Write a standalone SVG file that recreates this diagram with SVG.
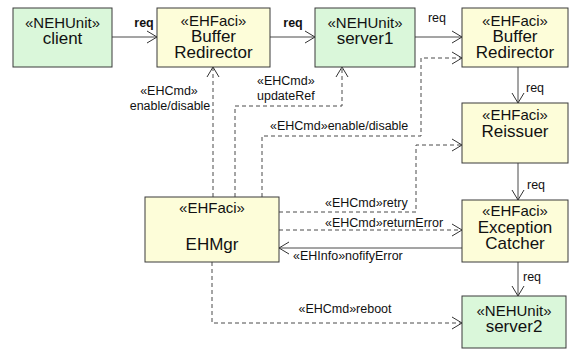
<svg xmlns="http://www.w3.org/2000/svg" width="573" height="352" viewBox="0 0 573 352">
<style>
.box{stroke:#3a3a3a;stroke-width:1}
.unit{fill:#daf7da}
.faci{fill:#fdfdd9}
.st{font-family:"Liberation Sans",Arial,sans-serif;font-size:15px;fill:#111;text-anchor:middle}
.nm{font-family:"Liberation Sans",Arial,sans-serif;font-size:17px;fill:#111;text-anchor:middle}
.lb{font-family:"Liberation Sans",Arial,sans-serif;font-size:12.5px;fill:#111}
.b{font-weight:bold}
.c{fill:none;stroke:#4a4a4a;stroke-width:1}
.d{stroke-dasharray:4,3}
</style>
<defs>
<marker id="a" viewBox="-11 -7 12 14" refX="0" refY="0" markerWidth="12" markerHeight="14" markerUnits="userSpaceOnUse" orient="auto">
<path d="M-10,-6 L0,0 L-10,6" fill="none" stroke="#333" stroke-width="1"/>
</marker>
</defs>
<g id="connectors">
<path class="c" d="M112,37 H157" marker-end="url(#a)"/>
<text class="lb b" x="144" y="27" text-anchor="middle">req</text>
<path class="c" d="M270,37 H315" marker-end="url(#a)"/>
<text class="lb b" x="293" y="27" text-anchor="middle">req</text>
<path class="c" d="M415,37 H462" marker-end="url(#a)"/>
<text class="lb" x="437" y="22" text-anchor="middle">req</text>
<path class="c" d="M518,67 V103" marker-end="url(#a)"/>
<text class="lb" x="526" y="92">req</text>
<path class="c" d="M518,163 V200" marker-end="url(#a)"/>
<text class="lb" x="527" y="189">req</text>
<path class="c" d="M518,262 V296" marker-end="url(#a)"/>
<text class="lb" x="523" y="281">req</text>
<path class="c d" d="M213,197 V67" marker-end="url(#a)"/>
<text class="lb" x="169" y="95" text-anchor="middle">«EHCmd»</text>
<text class="lb" x="170" y="110" text-anchor="middle">enable/disable</text>
<path class="c d" d="M235,197 V106 H342 V67" marker-end="url(#a)"/>
<text class="lb" x="257" y="85">«EHCmd»</text>
<text class="lb" x="257" y="100">updateRef</text>
<path class="c d" d="M262,197 V136 H421 V58 H462" marker-end="url(#a)"/>
<text class="lb" x="270" y="130">«EHCmd»enable/disable</text>
<path class="c d" d="M279,212 H416 V145 H462" marker-end="url(#a)"/>
<text class="lb" x="325" y="207">«EHCmd»retry</text>
<path class="c d" d="M279,230 H462" marker-end="url(#a)"/>
<text class="lb" x="325" y="227">«EHCmd»returnError</text>
<path class="c" d="M462,248 H279" marker-end="url(#a)"/>
<text class="lb" x="293" y="260">«EHInfo»nofifyError</text>
<path class="c d" d="M212,262 V323 H462" marker-end="url(#a)"/>
<text class="lb" x="345" y="313" text-anchor="middle">«EHCmd»reboot</text>
</g>
<g id="client">
<rect class="box unit" x="13" y="8" width="99" height="59"/>
<text class="st" x="62.5" y="28">«NEHUnit»</text>
<text class="nm" x="62.5" y="44">client</text>
</g>
<g id="bufferRedirector1">
<rect class="box faci" x="157" y="8" width="113" height="59"/>
<text class="st" x="213.5" y="26">«EHFaci»</text>
<text class="nm" x="213.5" y="42">Buffer</text>
<text class="nm" x="213.5" y="58">Redirector</text>
</g>
<g id="server1">
<rect class="box unit" x="315" y="8" width="100" height="59"/>
<text class="st" x="365" y="28">«NEHUnit»</text>
<text class="nm" x="365" y="44">server1</text>
</g>
<g id="bufferRedirector2">
<rect class="box faci" x="462" y="8" width="106" height="59"/>
<text class="st" x="515" y="26">«EHFaci»</text>
<text class="nm" x="515" y="42">Buffer</text>
<text class="nm" x="515" y="58">Redirector</text>
</g>
<g id="reissuer">
<rect class="box faci" x="462" y="103" width="106" height="60"/>
<text class="st" x="515" y="120">«EHFaci»</text>
<text class="nm" x="515" y="137">Reissuer</text>
</g>
<g id="exceptionCatcher">
<rect class="box faci" x="462" y="200" width="106" height="62"/>
<text class="st" x="515" y="216">«EHFaci»</text>
<text class="nm" x="515" y="233">Exception</text>
<text class="nm" x="515" y="249">Catcher</text>
</g>
<g id="server2">
<rect class="box unit" x="462" y="296" width="104" height="52"/>
<text class="st" x="514" y="316">«NEHUnit»</text>
<text class="nm" x="514" y="332">server2</text>
</g>
<g id="EHMgr">
<rect class="box faci" x="145" y="197" width="134" height="65"/>
<text class="st" x="212" y="213">«EHFaci»</text>
<text class="nm" x="212" y="250">EHMgr</text>
</g>
</svg>
